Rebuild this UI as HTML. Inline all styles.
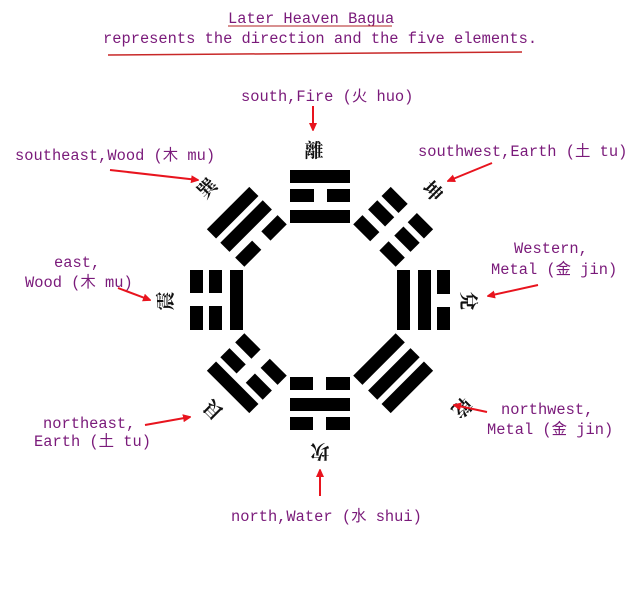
<!DOCTYPE html>
<html><head><meta charset="utf-8"><style>
html,body{margin:0;padding:0;background:#fff}
svg{display:block}
.t{font-family:"Liberation Mono","Noto Sans CJK SC",monospace;font-size:15.4px;fill:#7a1a7a}
.c{font-family:"Noto Serif CJK SC","Noto Sans CJK SC",serif;font-size:19px;font-weight:bold;fill:#111;text-anchor:middle}
</style></head><body>
<svg width="633" height="608" viewBox="0 0 633 608" xmlns="http://www.w3.org/2000/svg">
<defs>
<marker id="a" markerWidth="8" markerHeight="8" refX="7" refY="4" orient="auto" markerUnits="userSpaceOnUse"><path d="M0,0 L9,4 L0,8Z" fill="#e8141e"/></marker>
<g id="S"><rect x="-30" width="60" height="13"/></g>
<g id="B"><rect x="-30" width="24" height="13"/><rect x="7" width="23" height="13"/></g>
</defs>
<text class="t" x="228" y="23">Later Heaven Bagua</text>
<line x1="228" y1="26" x2="392" y2="26" stroke="#b02020" stroke-width="1"/>
<text class="t" x="103" y="43">represents the direction and the five elements.</text>
<line x1="108" y1="55" x2="522" y2="52" stroke="#c82828" stroke-width="1.5"/>

<g fill="#000" transform="translate(320,300)">
<g transform="rotate(0)"><use href="#S" y="-130"/><use href="#B" y="-111"/><use href="#S" y="-90"/></g>
<g transform="rotate(45)"><use href="#B" y="-130"/><use href="#B" y="-111"/><use href="#B" y="-90"/></g>
<g transform="rotate(90)"><use href="#B" y="-130"/><use href="#S" y="-111"/><use href="#S" y="-90"/></g>
<g transform="rotate(135)"><use href="#S" y="-130"/><use href="#S" y="-111"/><use href="#S" y="-90"/></g>
<g transform="rotate(180)"><use href="#B" y="-130"/><use href="#S" y="-111"/><use href="#B" y="-90"/></g>
<g transform="rotate(225)"><use href="#S" y="-130"/><use href="#B" y="-111"/><use href="#B" y="-90"/></g>
<g transform="rotate(270)"><use href="#B" y="-130"/><use href="#B" y="-111"/><use href="#S" y="-90"/></g>
<g transform="rotate(315)"><use href="#S" y="-130"/><use href="#S" y="-111"/><use href="#B" y="-90"/></g>
</g>

<text class="c" x="314" y="157">離</text>
<text class="c" x="207" y="195" transform="rotate(-45 207 188)">巽</text>
<text class="c" x="433" y="198" transform="rotate(45 433 191)">坤</text>
<text class="c" x="469" y="308" transform="rotate(90 469 301)">兌</text>
<text class="c" x="165" y="308" transform="rotate(-90 165 301)">震</text>
<text class="c" x="213" y="417" transform="rotate(-135 213 410)">艮</text>
<text class="c" x="462" y="415" transform="rotate(135 462 408)">乾</text>
<text class="c" x="320" y="459" transform="rotate(180 320 452)">坎</text>

<text class="t" x="241" y="101">south,Fire (火 huo)</text>
<text class="t" x="15" y="160">southeast,Wood (木 mu)</text>
<text class="t" x="418" y="156">southwest,Earth (土 tu)</text>
<text class="t" x="514" y="253">Western,</text>
<text class="t" x="491" y="274">Metal (金 jin)</text>
<text class="t" x="54" y="267">east,</text>
<text class="t" x="25" y="287">Wood (木 mu)</text>
<text class="t" x="43" y="428">northeast,</text>
<text class="t" x="34" y="446">Earth (土 tu)</text>
<text class="t" x="501" y="414">northwest,</text>
<text class="t" x="487" y="434">Metal (金 jin)</text>
<text class="t" x="231" y="521">north,Water (水 shui)</text>

<g stroke="#e8141e" stroke-width="2" marker-end="url(#a)">
<line x1="313" y1="106" x2="313" y2="130"/>
<line x1="110" y1="170" x2="198" y2="180"/>
<line x1="492" y1="163" x2="448" y2="181"/>
<line x1="538" y1="285" x2="488" y2="296"/>
<line x1="118" y1="288" x2="150" y2="300"/>
<line x1="145" y1="425" x2="190" y2="417"/>
<line x1="487" y1="412" x2="454" y2="405"/>
<line x1="320" y1="496" x2="320" y2="470"/>
</g>
</svg>
</body></html>
